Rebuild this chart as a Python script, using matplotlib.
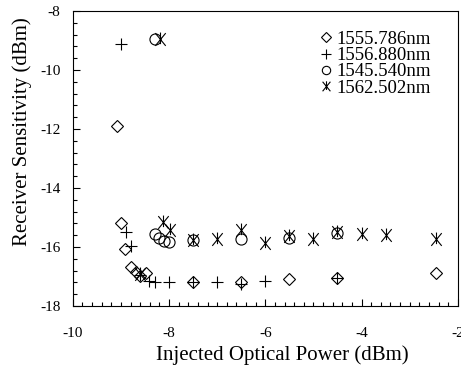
import numpy as np
import matplotlib
matplotlib.use('Agg')
import matplotlib.pyplot as plt
from matplotlib.path import Path
from matplotlib.ticker import MultipleLocator

plt.rcParams['font.family'] = ['Liberation Serif', 'DejaVu Serif']
plt.rcParams['axes.unicode_minus'] = False

# data
x_1555 = [-9.09, -9.0, -8.91, -8.79, -8.69, -8.6, -8.47, -7.5, -6.5, -5.5, -4.5, -2.45]
y_1555 = [-11.9, -15.18, -16.08, -16.67, -16.84, -16.97, -16.9, -17.2, -17.2, -17.1, -17.07, -16.9]

x_1556 = [-9.0, -8.9, -8.8, -8.6, -8.41, -8.3, -8.0, -7.5, -7.0, -6.5, -6.0, -4.5]
y_1556 = [-9.13, -15.5, -15.97, -16.95, -17.17, -17.2, -17.2, -17.2, -17.2, -17.25, -17.17, -17.07]

x_1545 = [-8.3, -8.3, -8.21, -8.1, -8.0, -7.5, -6.5, -5.5, -4.5]
y_1545 = [-8.95, -15.56, -15.71, -15.79, -15.83, -15.76, -15.72, -15.71, -15.54]

x_1562 = [-8.18, -8.12, -7.98, -8.6, -7.5, -7.0, -6.5, -6.0, -5.5, -5.0, -4.5, -4.0, -3.5, -2.45]
y_1562 = [-8.95, -15.14, -15.42, -16.93, -15.76, -15.74, -15.42, -15.88, -15.63, -15.74, -15.48, -15.56, -15.59, -15.74]

labels = ['1555.786nm', '1556.880nm', '1545.540nm', '1562.502nm']

# X with a vertical bar
ast = Path([(-0.45, -0.55), (0.45, 0.55), (-0.45, 0.55), (0.45, -0.55), (0, -0.4), (0, 0.6)],
           [Path.MOVETO, Path.LINETO, Path.MOVETO, Path.LINETO, Path.MOVETO, Path.LINETO])

fig = plt.figure(figsize=(4.61, 3.69), dpi=100)
ax = fig.add_axes([0.158, 0.171, 0.835, 0.799])

kw = dict(ls='none', color='k', mfc='none', mew=0.8)
ax.plot(x_1555, y_1555, marker='D', ms=6.5, label=labels[0], **kw)
ax.plot(x_1556, y_1556, marker='+', ms=9, label=labels[1], **kw)
ax.plot(x_1545, y_1545, marker='o', ms=8, label=labels[2], **kw)
ax.plot(x_1562, y_1562, marker=ast, ms=10, label=labels[3], **kw)

ax.set_xlim(-10, -2)
ax.set_ylim(-18, -8)
ax.xaxis.set_major_locator(MultipleLocator(2))
ax.xaxis.set_minor_locator(MultipleLocator(0.2))
ax.yaxis.set_major_locator(MultipleLocator(2))
ax.yaxis.set_minor_locator(MultipleLocator(0.4))
ax.tick_params(which='both', direction='in', labelsize=11, width=0.8)
ax.tick_params(which='major', length=5)
ax.tick_params(axis='y', which='major', pad=9)
ax.tick_params(axis='x', which='major', pad=15)
ax.tick_params(which='minor', length=3)
for s in ax.spines.values():
    s.set_linewidth(0.8)

ax.set_xlabel('Injected Optical Power (dBm)', fontsize=15)
ax.set_ylabel('Receiver Sensitivity (dBm)', fontsize=15)
ax.xaxis.set_label_coords(0.543, -0.135)
ax.yaxis.set_label_coords(-0.105, 0.59)

ax.legend(loc='upper right', frameon=False, fontsize=13.5, handlelength=0.5,
          handletextpad=0.3, labelspacing=-0.05, borderaxespad=0.5,
          bbox_to_anchor=(0.975, 0.99), markerscale=0.75)

fig.savefig('out.png', dpi=100)
